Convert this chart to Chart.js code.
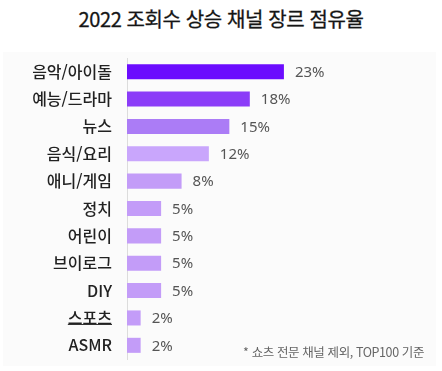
<!DOCTYPE html>
<html lang="ko">
<head>
<meta charset="UTF-8">
<title>2022 조회수 상승 채널 장르 점유율</title>
<script src="https://cdn.jsdelivr.net/npm/chart.js"></script>
<style>
    body { margin: 0; width: 442px; height: 371px; background: #fff; position: relative; overflow: hidden;
           font-family: 'Noto Sans CJK KR', 'Noto Sans', sans-serif; }
    .title { position: absolute; top: 5px; left: 0; width: 442px; text-align: center;
             font-size: 20px; font-weight: 400; color: #151515; letter-spacing: -0.4px; line-height: 28px;
             -webkit-text-stroke: 0.3px #151515; }
    .panel { position: absolute; left: 3px; top: 52px; width: 433px; height: 314px; background: #fbfbfb; }
    .note { position: absolute; right: 12px; top: 290px; font-size: 12.5px; color: #666; letter-spacing: -0.4px; }
</style>
</head>
<body>
<div class="title">2022 조회수 상승 채널 장르 점유율</div>
<div class="panel">
    <canvas id="genreChart" width="433" height="314"></canvas>
    <div class="note">* 쇼츠 전문 채널 제외, TOP100 기준</div>
</div>
<script>
// 장르별 점유율 (%)
const genres = ['음악/아이돌', '예능/드라마', '뉴스', '음식/요리', '애니/게임', '정치', '어린이', '브이로그', 'DIY', '스포츠', 'ASMR'];
const shares = [23, 18, 15, 12, 8, 5, 5, 5, 5, 2, 2];
const barColors = ['#6b0cfe', '#8b3cf8', '#ab7cf6', '#c9a6fc', '#c39cf8', '#c39cf8', '#c39cf8', '#c39cf8', '#c39cf8', '#c39cf8', '#c39cf8'];

const labelFont = '500 16px "Noto Sans CJK KR"';
const labelGap = 15;

// 막대 끝에 % 표시
const valueLabels = {
    id: 'valueLabels',
    afterDatasetsDraw(chart) {
        const ctx = chart.ctx;
        const meta = chart.getDatasetMeta(0);
        ctx.save();
        ctx.font = '15px "Noto Sans", sans-serif';
        ctx.fillStyle = '#555';
        ctx.textBaseline = 'middle';
        meta.data.forEach((bar, i) => {
            ctx.fillText(shares[i] + '%', bar.x + 11, bar.y + 1);
        });
        ctx.restore();
    }
};

// '스포츠' 라벨 밑줄
const underline = {
    id: 'underline',
    afterDraw(chart) {
        const y = chart.scales.y;
        const i = genres.indexOf('스포츠');
        const ctx = chart.ctx;
        ctx.save();
        ctx.font = labelFont;
        const w = ctx.measureText(genres[i]).width;
        const right = y.right - labelGap;
        const yy = Math.round(y.getPixelForValue(i)) + 6.5;
        ctx.strokeStyle = '#333';
        ctx.lineWidth = 1;
        ctx.beginPath();
        ctx.moveTo(right - w, yy);
        ctx.lineTo(right, yy);
        ctx.stroke();
        ctx.restore();
    }
};

new Chart(document.getElementById('genreChart'), {
    type: 'bar',
    data: {
        labels: genres,
        datasets: [{
            data: shares,
            backgroundColor: barColors,
            barPercentage: 0.55,
            categoryPercentage: 1
        }]
    },
    options: {
        indexAxis: 'y',
        responsive: false,
        animation: false,
        layout: { padding: { top: 6, bottom: 7, right: 2, left: 0 } },
        scales: {
            x: { display: false, min: 0, max: 45 },
            y: {
                afterFit(scale) { scale.width = 124; },
                grid: { display: false, drawTicks: true, tickLength: labelGap },
                border: { display: true, color: '#dcdcdc', width: 1 },
                ticks: { padding: 0, color: '#222', font: { family: '"Noto Sans CJK KR"', size: 16, weight: '500', lineHeight: 0.7 } }
            }
        },
        plugins: {
            legend: { display: false },
            tooltip: { enabled: false }
        }
    },
    plugins: [valueLabels, underline]
});
</script>
</body>
</html>
